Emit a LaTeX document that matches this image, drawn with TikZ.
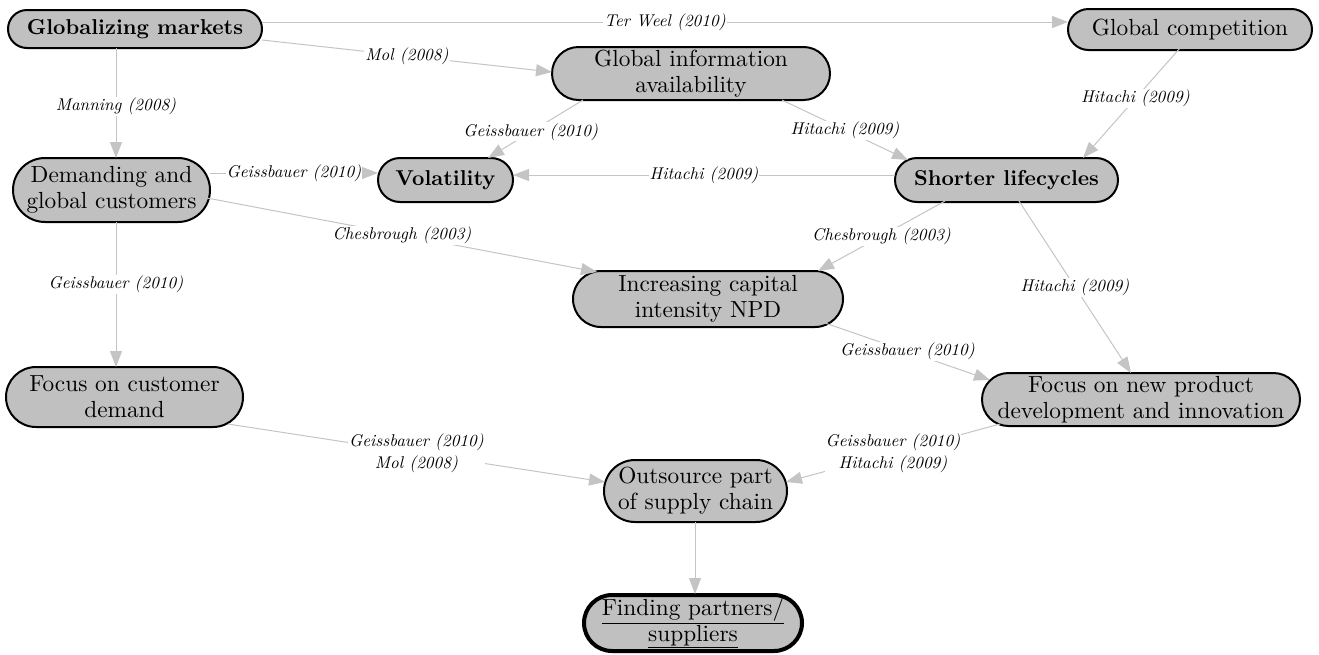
\documentclass[tikz,border=0pt]{standalone}
\usepackage{fontspec}
% Latin Modern at its 10pt design size throughout, for its heavier strokes
\setmainfont{lmroman10-regular.otf}[
  BoldFont=lmroman10-bold.otf,
  ItalicFont=lmroman10-italic.otf,
  BoldItalicFont=lmroman10-bolditalic.otf]
\usetikzlibrary{arrows.meta,calc}
\definecolor{boxgray}{HTML}{C0C0C0}
\definecolor{linkgray}{HTML}{C4C4C4}
\begin{document}
\begin{tikzpicture}[x=1pt,y=-1pt,
  box/.style={draw=black, line width=2pt, fill=boxgray, align=center,
    inner sep=0pt, font=\fontsize{23.3}{26}\selectfont},
  bbox/.style={box, font=\fontsize{21.5}{26}\selectfont\bfseries},
  lbl/.style={fill=white, inner sep=1pt, align=center,
    font=\fontsize{17}{22}\selectfont\itshape},
  link/.style={draw=linkgray, line width=1pt,
    -{Triangle[length=16pt,width=12pt]}}]
\useasboundingbox (0,0) rectangle (1319,654);

% concepts
\node[bbox, minimum width=254pt, minimum height=38pt, rounded corners=19pt] (gm) at (135,29) {Globalizing markets};
\node[box, minimum width=244pt, minimum height=41pt, rounded corners=20.5pt] (gc) at (1190,29.5) {Global competition};
\node[box, minimum width=278pt, minimum height=53pt, rounded corners=26.5pt] (gia) at (691,73.5) {Global information\\availability};
\node[box, minimum width=197pt, minimum height=64pt, rounded corners=32pt] (dgc) at (111.5,190) {Demanding and\\global customers};
\node[bbox, minimum width=135pt, minimum height=44pt, rounded corners=22pt] (vol) at (445.5,180) {Volatility};
\node[bbox, minimum width=223pt, minimum height=44pt, rounded corners=22pt] (sl) at (1006.5,180) {Shorter lifecycles};
\node[box, minimum width=270pt, minimum height=56pt, rounded corners=28pt] (ici) at (708,299) {Increasing capital\\intensity NPD};
\node[box, minimum width=237pt, minimum height=60pt, rounded corners=30pt] (fcd) at (124.5,397) {Focus on customer\\demand};
\node[box, minimum width=318pt, minimum height=53pt, rounded corners=26.5pt] (fnpd) at (1141,399.5) {Focus on new product\\development and innovation};
\node[box, minimum width=183pt, minimum height=62pt, rounded corners=31pt] (osc) at (695.5,491) {Outsource part\\of supply chain};
\node[box, line width=4pt, minimum width=218pt, minimum height=56pt, rounded corners=28pt] (fps) at (693,623) {\underline{Finding partners/}\\\underline{suppliers}};

% influences with their sources
\draw[link] ($(gm.center)+(127,-7)$) -- node[lbl] (l1) {Ter Weel (2010)} ($(gc.center)+(-122,-7.5)$);
\draw[link] ($(gm.center)+(127,11)$) -- node[lbl] (l2) {Mol (2008)} ($(gia.center)+(-139,-1.5)$);
\draw[link] ($(gm.center)+(-19,19)$) -- node[lbl, pos=0.53] (l3) {Manning (2008)} ($(dgc.center)+(4.5,-32)$);
\draw[link] ($(gia.center)+(-108,26.5)$) -- node[lbl, pos=0.55] (l4) {Geissbauer (2010)} ($(vol.center)+(42.5,-22)$);
\draw[link] ($(gia.center)+(91,26.5)$) -- node[lbl] (l5) {Hitachi (2009)} ($(sl.center)+(-98.5,-20)$);
\draw[link] ($(gc.center)+(-10,18.5)$) -- node[lbl, pos=0.46] (l6) {Hitachi (2009)} ($(sl.center)+(76.5,-22)$);
\draw[link] ($(sl.center)+(-111.5,-5)$) -- node[lbl] (l7) {Hitachi (2009)} ($(vol.center)+(67.5,-5)$);
\draw[link] ($(dgc.center)+(98.5,-17)$) -- node[lbl] (l8) {Geissbauer (2010)} ($(vol.center)+(-67.5,-7)$);
\draw[link] ($(dgc.center)+(95.5,8)$) -- node[lbl] (l9) {Chesbrough (2003)} ($(ici.center)+(-111,-27)$);
\draw[link] ($(sl.center)+(-61.5,21)$) -- node[lbl] (l10) {Chesbrough (2003)} ($(ici.center)+(110,-28)$);
\draw[link] ($(sl.center)+(12.5,21)$) -- node[lbl] (l11) {Hitachi (2009)} ($(fnpd.center)+(-10,-26.5)$);
\draw[link] ($(dgc.center)+(4.5,32)$) -- node[lbl, pos=0.43] (l12) {Geissbauer (2010)} ($(fcd.center)+(-8.5,-30)$);
\draw[link] ($(ici.center)+(117,24)$) -- node[lbl] (l13) {Geissbauer (2010)} ($(fnpd.center)+(-151,-19.5)$);
\draw[link] ($(fcd.center)+(103.5,27)$) -- node[lbl] (l14) {Geissbauer (2010)\\Mol (2008)} ($(osc.center)+(-90.5,-9)$);
\draw[link] ($(fnpd.center)+(-141,24.5)$) -- node[lbl] (l15) {Geissbauer (2010)\\Hitachi (2009)} ($(osc.center)+(90.5,-9)$);
\draw[link] ($(osc.center)+(-0.5,31)$) -- ($(fps.center)+(2,-29)$);
\end{tikzpicture}
\end{document}
